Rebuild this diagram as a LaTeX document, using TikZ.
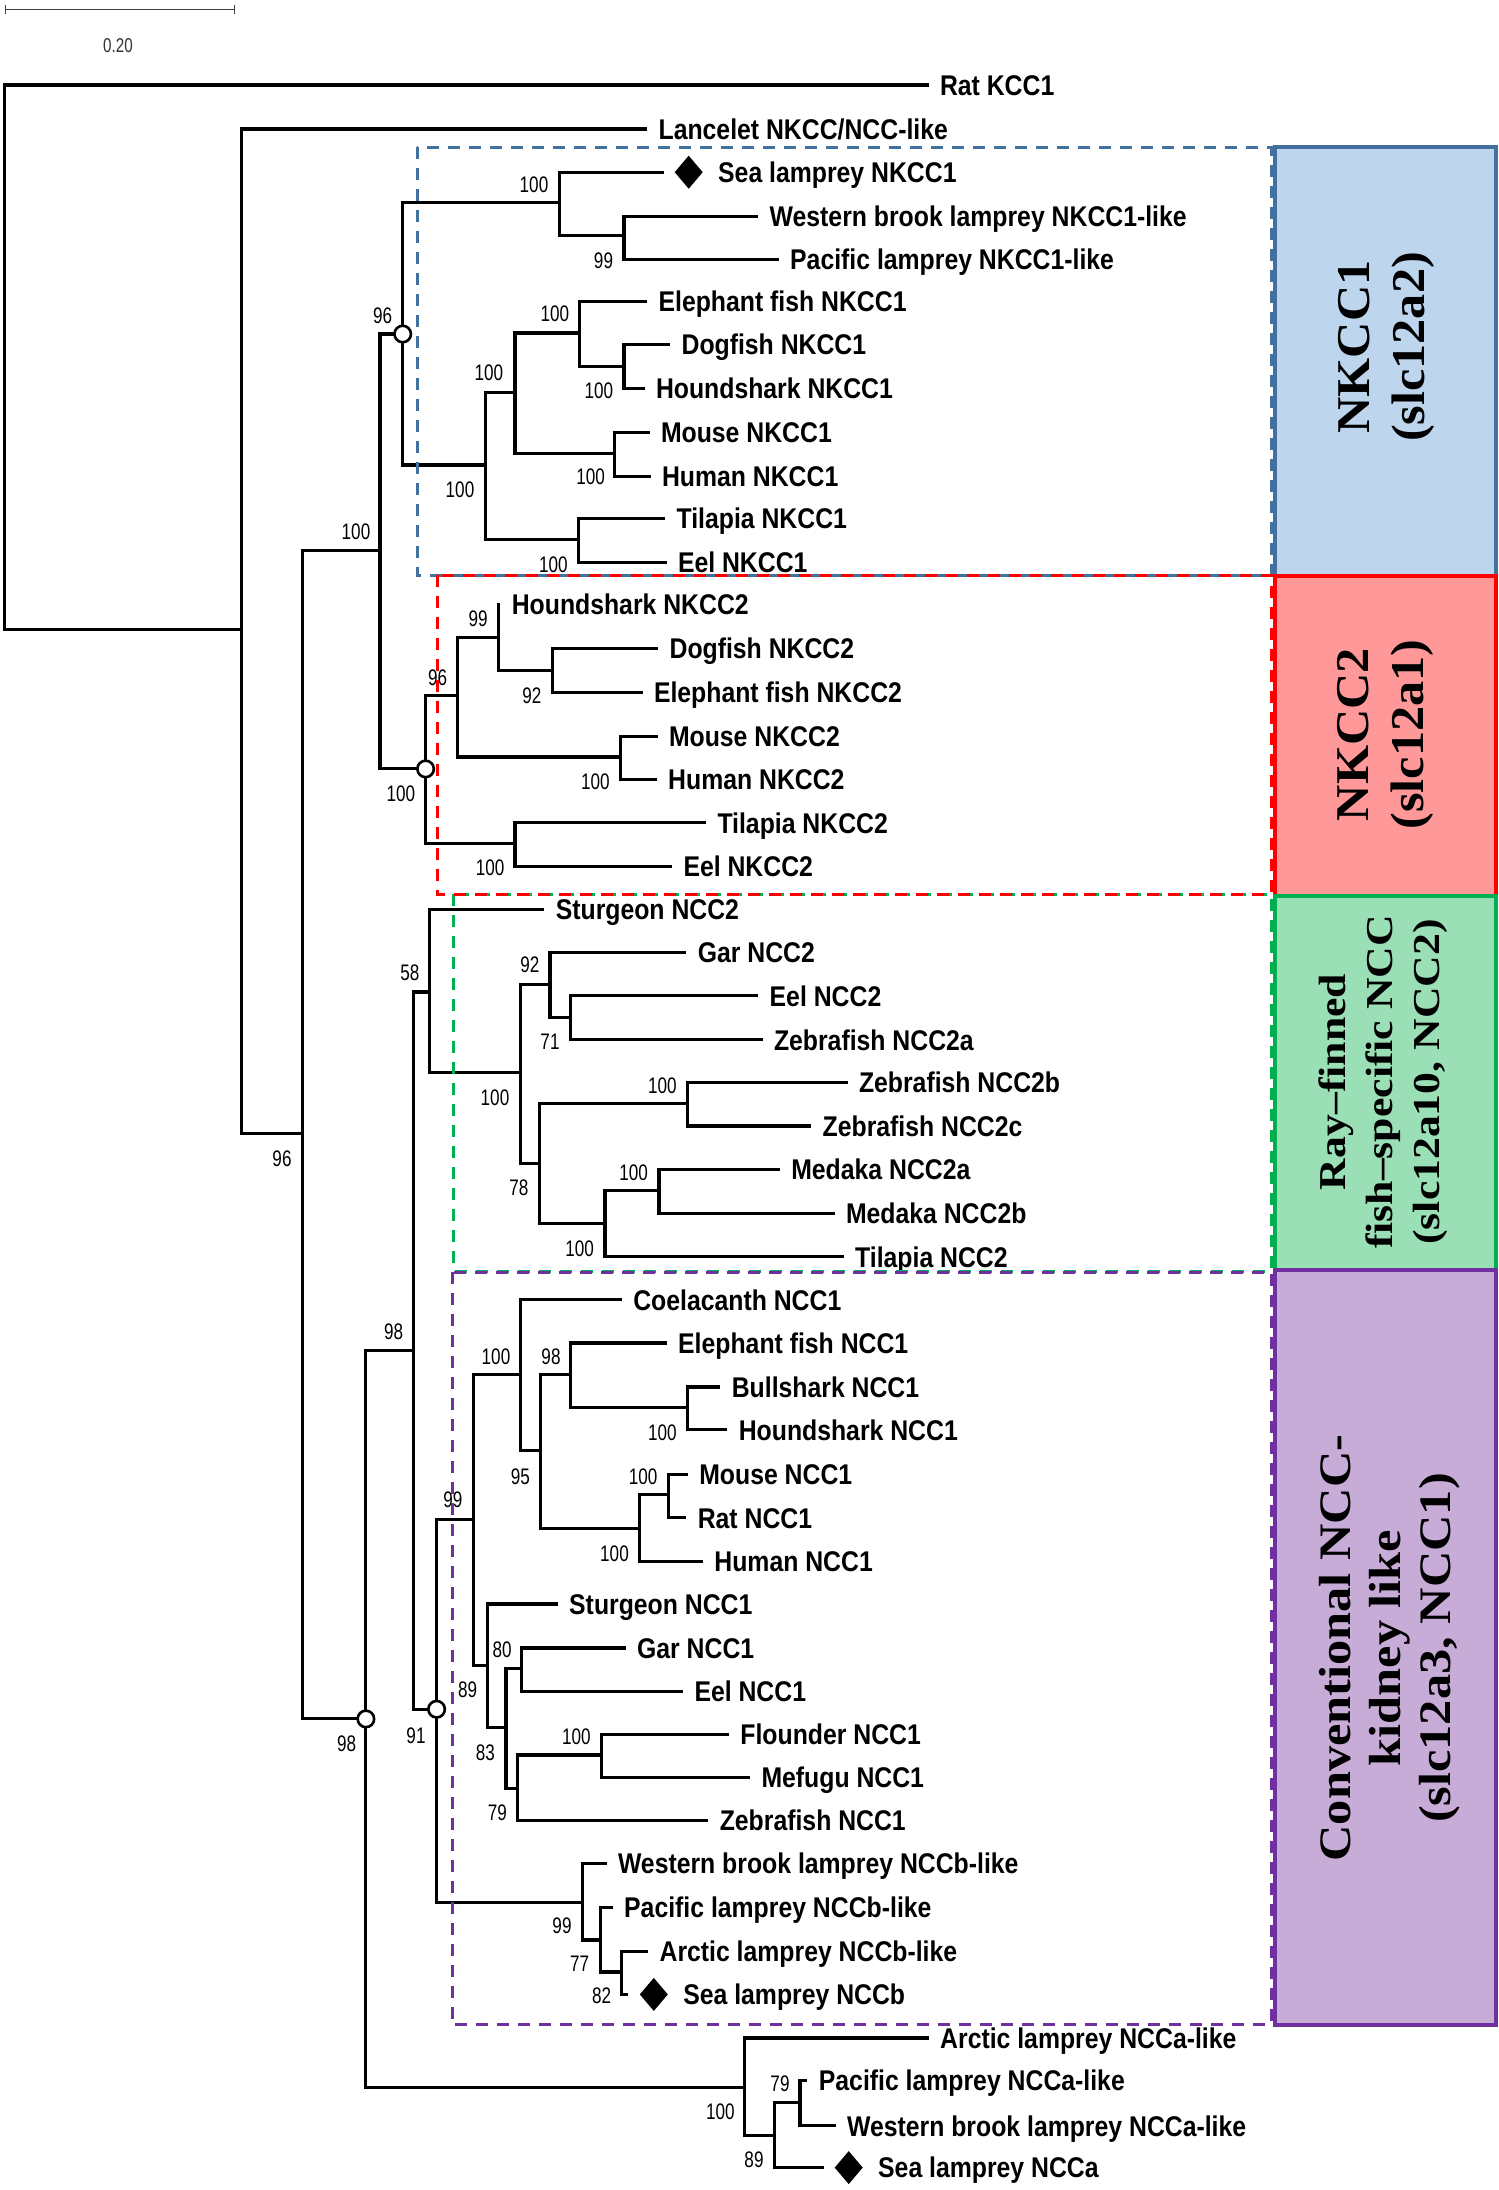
\documentclass[tikz,border=0pt]{standalone}
\usepackage{fontspec}
\usetikzlibrary{shapes.geometric}
\newfontfamily\labfont[FakeStretch=0.87]{Liberation Sans}
\newfontfamily\numfont[FakeStretch=0.76]{Liberation Sans}
\newfontfamily\boxfont{Liberation Serif}
\definecolor{bluel}{RGB}{65,113,156}
\definecolor{bluef}{RGB}{190,214,237}
\definecolor{redl}{RGB}{255,0,0}
\definecolor{redf}{RGB}{255,153,153}
\definecolor{greenl}{RGB}{0,176,80}
\definecolor{greenf}{RGB}{155,223,183}
\definecolor{purl}{RGB}{112,48,160}
\definecolor{purf}{RGB}{199,172,216}
\begin{document}
\begin{tikzpicture}[x=1pt,y=-1pt,
  br/.style={line width=3.1pt, line cap=rect},
  leaf/.style={anchor=west, inner xsep=13pt, inner ysep=0pt, outer sep=0pt, text height=20.4pt, text depth=0pt, font=\labfont\bfseries\fontsize{28.5}{31}\selectfont},
  dlab/.style={leaf, inner xsep=15.5pt},
  bs/.style={font=\numfont\fontsize{22.5}{25}\selectfont, inner sep=0pt},
  ring/.style={circle, draw=black, fill=white, line width=2.6pt, minimum size=16.5pt, inner sep=0pt},
  dbox/.style={dash pattern=on 12pt off 9pt, line width=3pt},
  cbox/.style={line width=4pt},
  ctext/.style={rotate=90, align=center, inner sep=0pt, font=\boxfont\bfseries}]
\useasboundingbox (0,0) rectangle (1499,2190);

% scale bar
\draw[line width=1.5pt, black!75] (5.7,9.6) -- (234.3,9.6);
\draw[line width=1.5pt, black!75] (5.7,4.6) -- (5.7,13.6);
\draw[line width=1.5pt, black!75] (234.3,4.6) -- (234.3,13.6);
\node[font=\numfont\fontsize{20}{24}\selectfont, text=black!80, inner sep=0pt] (scl) at (118,46) {0.20};

% clade boxes
\draw[cbox, draw=bluel, fill=bluef] (1275.3,147.3) rectangle (1495.7,575.5);
\draw[cbox, draw=redl, fill=redf] (1275.3,575.5) rectangle (1495.7,895.6);
\draw[cbox, draw=greenl, fill=greenf] (1275.3,895.6) rectangle (1495.7,1270.3);
\draw[cbox, draw=purl, fill=purf] (1275.3,1270.3) rectangle (1495.7,2025.4);
\node[ctext, xscale=1.07, font=\boxfont\bfseries\fontsize{47}{55}\selectfont] (tK1) at (1386,347) {NKCC1\\(slc12a2)};
\node[ctext, xscale=1.07, font=\boxfont\bfseries\fontsize{47}{55}\selectfont] (tK2) at (1385,734.5) {NKCC2\\(slc12a1)};
\node[ctext, xscale=1.15, font=\boxfont\bfseries\fontsize{38}{46.7}\selectfont] (tC2) at (1383.3,1082) {Ray–finned\\fish–specific NCC\\(slc12a10, NCC2)};
\node[ctext, xscale=1.12, font=\boxfont\bfseries\fontsize{45}{50}\selectfont] (tC1) at (1390,1648) {Conventional NCC-\\kidney like\\(slc12a3, NCC1)};

% internal nodes
\coordinate (R) at (4.8,357);
\coordinate (A) at (241.5,629.6);
\coordinate (B) at (302.7,1133.7);
\coordinate (C) at (380,550.3);
\coordinate (NK1) at (402.7,334);
\coordinate (L1) at (559.5,202.8);
\coordinate (L1b) at (624,235.4);
\coordinate (G1) at (485.4,465);
\coordinate (G1a) at (515,392.3);
\coordinate (G1c) at (579.6,333);
\coordinate (G1e) at (624,366.6);
\coordinate (G1d) at (614.5,453.5);
\coordinate (G1b) at (578.7,539.6);
\coordinate (NK2) at (425.6,768.9);
\coordinate (N2a) at (457.7,695.4);
\coordinate (N2c) at (498.8,637.3);
\coordinate (N2e) at (552.4,670.6);
\coordinate (N2d) at (620.3,757);
\coordinate (N2b) at (515,843.9);
\coordinate (D) at (365.9,1718.9);
\coordinate (E) at (413.7,1350.7);
\coordinate (F) at (429.5,992);
\coordinate (F1) at (520.3,1072.4);
\coordinate (F2) at (550,984.4);
\coordinate (F4) at (570.5,1017.7);
\coordinate (F3) at (539.5,1163.1);
\coordinate (F5) at (687.7,1103.8);
\coordinate (F6) at (605,1223.6);
\coordinate (F7) at (659,1190.7);
\coordinate (NC) at (436.6,1709.2);
\coordinate (H) at (473.5,1519.1);
\coordinate (H1) at (520.3,1374.4);
\coordinate (H3) at (540.4,1450.9);
\coordinate (H4) at (570.5,1374.4);
\coordinate (H6) at (687.7,1407.3);
\coordinate (H5) at (639.9,1528.6);
\coordinate (H7) at (668.6,1494.2);
\coordinate (H2) at (487.8,1665.3);
\coordinate (H8) at (506,1727.5);
\coordinate (H9) at (521.3,1668.9);
\coordinate (H10) at (517.9,1788.8);
\coordinate (H11) at (601.1,1755);
\coordinate (LB) at (582.5,1902.1);
\coordinate (K1) at (600.2,1940);
\coordinate (K2) at (621.7,1972);
\coordinate (LA) at (744.7,2087.3);
\coordinate (M1) at (774.5,2135.5);
\coordinate (M2) at (800,2102.8);

% leaves
\node[leaf] (rat) at (927,85) {Rat KCC1};
\node[leaf] (lanc) at (645.6,129) {Lancelet NKCC/NCC-like};
\coordinate (seaK1) at (662.4,172.2);
\coordinate (seaK1d) at (688.7,172.2);
\fill (seaK1d) ++(-14,0) -- ++(14,-16.5) -- ++(14,16.5) -- ++(-14,16.5) -- cycle;
\node[dlab] (seaK1t) at ([xshift=14pt]seaK1d) {Sea lamprey NKCC1};
\node[leaf] (wbK1) at (756.7,216.2) {Western brook lamprey NKCC1-like};
\node[leaf] (pacK1) at (777.2,259.1) {Pacific lamprey NKCC1-like};
\node[leaf] (elK1) at (645.6,301.2) {Elephant fish NKCC1};
\node[leaf] (dogK1) at (668.6,344.4) {Dogfish NKCC1};
\node[leaf] (hndK1) at (643,388.4) {Houndshark NKCC1};
\node[leaf] (mouK1) at (648,432.4) {Mouse NKCC1};
\node[leaf] (humK1) at (649,476.5) {Human NKCC1};
\node[leaf] (tilK1) at (663.6,518.6) {Tilapia NKCC1};
\node[leaf] (eelK1) at (665,562.6) {Eel NKCC1};
\node[leaf] (hndK2) at (498.8,604.3) {Houndshark NKCC2};
\node[leaf] (dogK2) at (656.6,648.7) {Dogfish NKCC2};
\node[leaf] (elK2) at (641,692.4) {Elephant fish NKCC2};
\node[leaf] (mouK2) at (656,736.4) {Mouse NKCC2};
\node[leaf] (humK2) at (655.2,779.6) {Human NKCC2};
\node[leaf] (tilK2) at (704.5,822.9) {Tilapia NKCC2};
\node[leaf] (eelK2) at (670.5,866.1) {Eel NKCC2};
\node[leaf] (stur2) at (542.8,909.7) {Sturgeon NCC2};
\node[leaf] (gar2) at (684.8,952.6) {Gar NCC2};
\node[leaf] (eelC2) at (756.7,995.8) {Eel NCC2};
\node[leaf] (zf2a) at (761,1039.9) {Zebrafish NCC2a};
\node[leaf] (zf2b) at (846,1082.7) {Zebrafish NCC2b};
\node[leaf] (zf2c) at (809.7,1126) {Zebrafish NCC2c};
\node[leaf] (med2a) at (778.3,1169.7) {Medaka NCC2a};
\node[leaf] (med2b) at (833,1213.7) {Medaka NCC2b};
\node[leaf] (tilC2) at (842.2,1256.9) {Tilapia NCC2};
\node[leaf] (coel) at (620.3,1299.8) {Coelacanth NCC1};
\node[leaf] (elC1) at (665.2,1343) {Elephant fish NCC1};
\node[leaf] (bull) at (718.8,1387) {Bullshark NCC1};
\node[leaf] (hndC1) at (725.8,1429.9) {Houndshark NCC1};
\node[leaf] (mouC1) at (686.3,1474.3) {Mouse NCC1};
\node[leaf] (ratC1) at (684.8,1517.9) {Rat NCC1};
\node[leaf] (humC1) at (701.4,1561.2) {Human NCC1};
\node[leaf] (stur1) at (556.2,1604) {Sturgeon NCC1};
\node[leaf] (gar1) at (624.1,1648) {Gar NCC1};
\node[leaf] (eelC1) at (681.5,1691.3) {Eel NCC1};
\node[leaf] (flo) at (727.4,1734.4) {Flounder NCC1};
\node[leaf] (mef) at (748.5,1777.4) {Mefugu NCC1};
\node[leaf] (zf1) at (706.8,1820.5) {Zebrafish NCC1};
\node[leaf] (wbB) at (605,1863.5) {Western brook lamprey NCCb-like};
\node[leaf] (pacB) at (611.2,1907.6) {Pacific lamprey NCCb-like};
\node[leaf] (arcB) at (646.6,1951.3) {Arctic lamprey NCCb-like};
\coordinate (seaB) at (626.5,1994.4);
\coordinate (seaBd) at (653.8,1994.4);
\fill (seaBd) ++(-14,0) -- ++(14,-16.5) -- ++(14,16.5) -- ++(-14,16.5) -- cycle;
\node[dlab] (seaBt) at ([xshift=14pt]seaBd) {Sea lamprey NCCb};
\node[leaf] (arcA) at (927.2,2038) {Arctic lamprey NCCa-like};
\node[leaf] (pacA) at (805.9,2080.5) {Pacific lamprey NCCa-like};
\node[leaf] (wbA) at (834.1,2125.9) {Western brook lamprey NCCa-like};
\coordinate (seaA) at (822.2,2167.6);
\coordinate (seaAd) at (848.7,2167.6);
\fill (seaAd) ++(-14,0) -- ++(14,-16.5) -- ++(14,16.5) -- ++(-14,16.5) -- cycle;
\node[dlab] (seaAt) at ([xshift=14pt]seaAd) {Sea lamprey NCCa};

% branches
\draw[br] (R) |- (rat.west);
\draw[br] (R) |- (A);
\draw[br] (A) |- (lanc.west);
\draw[br] (A) |- (B);
\draw[br] (B) |- (C);
\draw[br] (B) |- (D);
\draw[br] (C) |- (NK1);
\draw[br] (C) |- (NK2);
\draw[br] (NK1) |- (L1);
\draw[br] (NK1) |- (G1);
\draw[br] (L1) |- (seaK1);
\draw[br] (L1) |- (L1b);
\draw[br] (L1b) |- (wbK1.west);
\draw[br] (L1b) |- (pacK1.west);
\draw[br] (G1) |- (G1a);
\draw[br] (G1) |- (G1b);
\draw[br] (G1a) |- (G1c);
\draw[br] (G1a) |- (G1d);
\draw[br] (G1c) |- (elK1.west);
\draw[br] (G1c) |- (G1e);
\draw[br] (G1e) |- (dogK1.west);
\draw[br] (G1e) |- (hndK1.west);
\draw[br] (G1d) |- (mouK1.west);
\draw[br] (G1d) |- (humK1.west);
\draw[br] (G1b) |- (tilK1.west);
\draw[br] (G1b) |- (eelK1.west);
\draw[br] (NK2) |- (N2a);
\draw[br] (NK2) |- (N2b);
\draw[br] (N2a) |- (N2c);
\draw[br] (N2a) |- (N2d);
\draw[br] (N2c) |- (hndK2.west);
\draw[br] (N2c) |- (N2e);
\draw[br] (N2e) |- (dogK2.west);
\draw[br] (N2e) |- (elK2.west);
\draw[br] (N2d) |- (mouK2.west);
\draw[br] (N2d) |- (humK2.west);
\draw[br] (N2b) |- (tilK2.west);
\draw[br] (N2b) |- (eelK2.west);
\draw[br] (D) |- (E);
\draw[br] (D) |- (LA);
\draw[br] (E) |- (F);
\draw[br] (E) |- (NC);
\draw[br] (F) |- (stur2.west);
\draw[br] (F) |- (F1);
\draw[br] (F1) |- (F2);
\draw[br] (F1) |- (F3);
\draw[br] (F2) |- (gar2.west);
\draw[br] (F2) |- (F4);
\draw[br] (F4) |- (eelC2.west);
\draw[br] (F4) |- (zf2a.west);
\draw[br] (F3) |- (F5);
\draw[br] (F3) |- (F6);
\draw[br] (F5) |- (zf2b.west);
\draw[br] (F5) |- (zf2c.west);
\draw[br] (F6) |- (F7);
\draw[br] (F6) |- (tilC2.west);
\draw[br] (F7) |- (med2a.west);
\draw[br] (F7) |- (med2b.west);
\draw[br] (NC) |- (H);
\draw[br] (NC) |- (LB);
\draw[br] (H) |- (H1);
\draw[br] (H) |- (H2);
\draw[br] (H1) |- (coel.west);
\draw[br] (H1) |- (H3);
\draw[br] (H3) |- (H4);
\draw[br] (H3) |- (H5);
\draw[br] (H4) |- (elC1.west);
\draw[br] (H4) |- (H6);
\draw[br] (H6) |- (bull.west);
\draw[br] (H6) |- (hndC1.west);
\draw[br] (H5) |- (H7);
\draw[br] (H5) |- (humC1.west);
\draw[br] (H7) |- (mouC1.west);
\draw[br] (H7) |- (ratC1.west);
\draw[br] (H2) |- (stur1.west);
\draw[br] (H2) |- (H8);
\draw[br] (H8) |- (H9);
\draw[br] (H8) |- (H10);
\draw[br] (H9) |- (gar1.west);
\draw[br] (H9) |- (eelC1.west);
\draw[br] (H10) |- (H11);
\draw[br] (H10) |- (zf1.west);
\draw[br] (H11) |- (flo.west);
\draw[br] (H11) |- (mef.west);
\draw[br] (LB) |- (wbB.west);
\draw[br] (LB) |- (K1);
\draw[br] (K1) |- (pacB.west);
\draw[br] (K1) |- (K2);
\draw[br] (K2) |- (arcB.west);
\draw[br] (K2) |- (seaB);
\draw[br] (LA) |- (arcA.west);
\draw[br] (LA) |- (M1);
\draw[br] (M1) |- (M2);
\draw[br] (M1) |- (seaA);
\draw[br] (M2) |- (pacA.west);
\draw[br] (M2) |- (wbA.west);

% node circles
\node[ring] (cNK1) at (NK1) {};
\node[ring] (cNK2) at (NK2) {};
\node[ring] (cD) at (D) {};
\node[ring] (cNC) at (NC) {};

% bootstrap values
\node[bs] (b1) at (534,184.5) {100};
\node[bs] (b2) at (603.5,261) {99};
\node[bs] (b3) at (382.6,315.7) {96};
\node[bs] (b4) at (356,532) {100};
\node[bs] (b5) at (554.8,313.8) {100};
\node[bs] (b6) at (488.8,373) {100};
\node[bs] (b7) at (598.8,390.4) {100};
\node[bs] (b8) at (590.6,476.5) {100};
\node[bs] (b9) at (460,489.9) {100};
\node[bs] (b10) at (553.3,564.5) {100};
\node[bs] (b11) at (478.2,618.9) {99};
\node[bs] (b12) at (437.6,677.4) {96};
\node[bs] (b13) at (531.8,695.4) {92};
\node[bs] (b14) at (400.8,793.8) {100};
\node[bs] (b15) at (595.4,781.5) {100};
\node[bs] (b16) at (490.2,867.7) {100};
\node[bs] (b17) at (282,1159) {96};
\node[bs] (b18) at (409.8,972.9) {58};
\node[bs] (b19) at (529.9,965.2) {92};
\node[bs] (b20) at (550,1041.8) {71};
\node[bs] (b21) at (495,1097.3) {100};
\node[bs] (b22) at (662.4,1085.8) {100};
\node[bs] (b23) at (518.9,1188) {78};
\node[bs] (b24) at (633.7,1172.7) {100};
\node[bs] (b25) at (579.6,1248.5) {100};
\node[bs] (b26) at (393.6,1331.5) {98};
\node[bs] (b27) at (496,1356.4) {100};
\node[bs] (b28) at (551,1356.4) {98};
\node[bs] (b29) at (662.4,1433) {100};
\node[bs] (b30) at (520.3,1477) {95};
\node[bs] (b31) at (643.2,1477) {100};
\node[bs] (b32) at (614.5,1553.5) {100};
\node[bs] (b33) at (452.9,1500) {99};
\node[bs] (b34) at (502.2,1650) {80};
\node[bs] (b35) at (467.7,1689.6) {89};
\node[bs] (b36) at (416,1735.4) {91};
\node[bs] (b37) at (346.7,1743.7) {98};
\node[bs] (b38) at (485.4,1752.3) {83};
\node[bs] (b39) at (576.3,1736.8) {100};
\node[bs] (b40) at (497.4,1812.9) {79};
\node[bs] (b41) at (562,1925.5) {99};
\node[bs] (b42) at (579.6,1964) {77};
\node[bs] (b43) at (601.6,1996) {82};
\node[bs] (b44) at (720.4,2111.4) {100};
\node[bs] (b45) at (754,2159.6) {89};
\node[bs] (b46) at (780,2083.9) {79};

% dashed clade frames
\draw[dbox, draw=bluel] (417,147.3) rectangle (1271,575);
\draw[dbox, draw=greenl] (453.4,894.4) rectangle (1271,1271);
\draw[dbox, draw=redl] (437.6,575) rectangle (1271,894.4);
\draw[dbox, draw=purl] (452,1272) rectangle (1271,2024.7);
\end{tikzpicture}
\end{document}
